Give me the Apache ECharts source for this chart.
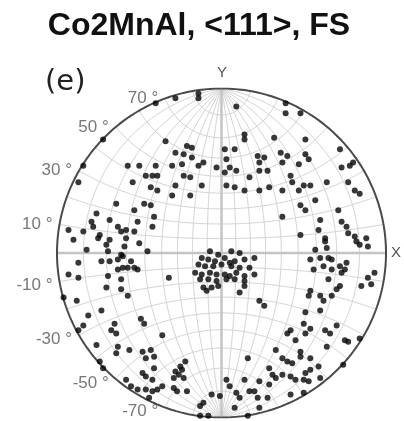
<!DOCTYPE html>
<html><head><meta charset="utf-8">
<script src="https://cdn.jsdelivr.net/npm/echarts@6/dist/echarts.min.js"></script>
<style>html,body{margin:0;padding:0;background:#fff}#c{width:404px;height:421px}</style>
</head><body><div id="c"></div>
<script>
// ---- data (stereographic projection coordinates, unit circle) ----
const chartTitle = "Co2MnAl, <111>, FS";
const panelLabel = "(e)";
const axisNames = ["X", "Y"];
const latTicks = [70, 50, 30, 10, -10, -30, -50, -70];
const latTickLabels = ["70 °", "50 °", "30 °", "10 °", "-10 °", "-30 °", "-50 °", "-70 °"];
const netStepDeg = 10;

const northPoles = [[-0.40,0.91],[-0.72,0.69],[-0.84,0.53],[-0.87,0.43],[-0.34,0.68],[-0.54,0.43],[-0.57,0.53],[-0.50,0.53],[-0.46,0.47],[-0.42,0.47],[-0.39,0.47],[-0.40,0.53],[-0.43,0.40],[-0.39,0.38],[-0.28,0.94],
[-0.14,0.97],[-0.14,0.94],[0.09,0.89],[0.14,0.72],[0.14,0.69],[0.32,0.70],[-0.28,0.61],[-0.21,0.65],[-0.18,0.64],[-0.23,0.60],[-0.18,0.58],[-0.14,0.53],[-0.11,0.55],[-0.30,0.53],[-0.24,0.54],[-0.23,0.47],[-0.28,0.41],[-0.19,0.46],[-0.12,0.41],[-0.30,0.35],[-0.19,0.35],
[0.02,0.63],[0.08,0.63],[0.03,0.57],[0.05,0.52],[0.09,0.50],[-0.03,0.52],[0.02,0.49],[0.03,0.41],[0.14,0.38],[0.08,0.40],[0.22,0.59],[0.26,0.58],[0.23,0.55],[0.23,0.50],[0.28,0.50],[0.23,0.38],[0.29,0.40],[0.17,0.46],
[0.39,0.91],[0.39,0.85],[0.48,0.85],[0.51,0.69],[0.72,0.63],[0.80,0.55],[0.78,0.53],[0.73,0.52],[0.36,0.61],[0.40,0.59],[0.37,0.55],[0.47,0.54],[0.51,0.60],[0.53,0.57],[0.42,0.47],[0.43,0.43],[0.54,0.41],[0.50,0.41],[0.64,0.43],[0.77,0.43],[0.81,0.38],[0.37,0.38],[0.47,0.38],[0.84,0.36]];

const westPoles = [[-0.64,0.30],[-0.53,0.26],[-0.43,0.29],[-0.47,0.30],[-0.76,0.24],[-0.41,0.22],[-0.51,0.19],[-0.68,0.20],[-0.79,0.19],[-0.78,0.16],[-0.63,0.16],[-0.61,0.13],[-0.58,0.14],[-0.93,0.14],[-0.84,0.13],[-0.53,0.13],[-0.42,0.16],[-0.74,0.11],[-0.75,0.09],[-0.90,0.08],[-0.68,0.08],[-0.58,0.09],[-0.50,0.06],[-0.70,0.05],[-0.59,0.04],[-0.82,0.02],[-0.45,0.01],[-0.69,0.01],[-0.61,-0.01],[-0.73,-0.05],[-0.68,-0.05],[-0.63,-0.04],[-0.60,-0.02],[-0.55,-0.05],[-0.87,-0.06],[-0.63,-0.10],[-0.60,-0.09],[-0.57,-0.09],[-0.53,-0.09],[-0.51,-0.10],[-0.93,-0.13],[-0.87,-0.15],[-0.69,-0.14],[-0.61,-0.16],[-0.70,-0.21],[-0.61,-0.22],[-0.57,-0.26],[-0.96,-0.27],[-0.88,-0.29]];

const centerPoles = [[-0.07,0.01],[-0.02,-0.01],[0.06,0.01],[0.11,0.00],[-0.12,-0.03],[-0.08,-0.04],[-0.04,-0.05],[0.02,-0.03],[0.05,-0.06],[0.08,-0.05],[0.14,-0.04],[0.20,-0.03],[-0.14,-0.07],[-0.10,-0.08],[-0.05,-0.08],[0.00,-0.07],[0.06,-0.08],[0.11,-0.09],[0.17,-0.09],[-0.16,-0.12],[-0.12,-0.13],[-0.07,-0.12],[-0.03,-0.13],[0.02,-0.13],[0.05,-0.14],[0.09,-0.12],[0.14,-0.14],[0.20,-0.13],[-0.13,-0.16],[-0.08,-0.16],[-0.03,-0.17],[0.03,-0.16],[0.08,-0.16],[0.14,-0.17],[-0.11,-0.21],[-0.06,-0.21],[-0.02,-0.20],[0.11,-0.24],[0.14,-0.20],[-0.09,-0.23],[0.23,-0.29],[0.26,-0.32],[-0.32,-0.15]];

const eastPoles = [[0.37,0.22],[0.48,0.29],[0.51,0.26],[0.57,0.32],[0.71,0.26],[0.60,0.20],[0.59,0.14],[0.73,0.19],[0.76,0.16],[0.48,0.11],[0.63,0.09],[0.63,0.07],[0.64,0.03],[0.77,0.12],[0.81,0.10],[0.82,0.07],[0.88,0.09],[0.89,0.04],[0.84,0.05],[0.57,0.02],[0.60,-0.03],[0.65,-0.03],[0.67,-0.04],[0.54,-0.04],[0.62,-0.08],[0.56,-0.10],[0.67,-0.10],[0.72,-0.08],[0.76,-0.06],[0.75,-0.10],[0.73,-0.12],[0.93,-0.12],[0.89,-0.15],[0.91,-0.19],[0.85,-0.20],[0.65,-0.16],[0.72,-0.20],[0.70,-0.22],[0.54,-0.23],[0.53,-0.26],[0.60,-0.26],[0.67,-0.26],[0.62,-0.29]];

const southPoles = [[-0.81,-0.38],[-0.73,-0.35],[-0.87,-0.47],[-0.84,-0.44],[-0.65,-0.43],[-0.67,-0.47],[-0.64,-0.49],[-0.49,-0.40],[-0.47,-0.43],[-0.76,-0.56],[-0.63,-0.57],[-0.64,-0.61],[-0.56,-0.59],[-0.48,-0.60],[-0.43,-0.59],[-0.46,-0.64],[-0.41,-0.63],[-0.74,-0.66],[-0.72,-0.70],[-0.58,-0.77],[-0.55,-0.81],[-0.51,-0.83],[-0.48,-0.73],[-0.46,-0.75],[-0.42,-0.77],[-0.41,-0.70],[-0.46,-0.83],[-0.42,-0.84],[-0.39,-0.83],[-0.36,-0.81],[-0.44,-0.88],[-0.36,-0.50],
[-0.28,-0.72],[-0.26,-0.74],[-0.24,-0.71],[-0.29,-0.76],[-0.23,-0.76],[-0.25,-0.69],[-0.22,-0.66],[-0.29,-0.82],[-0.27,-0.84],[-0.21,-0.84],[-0.11,-0.91],[-0.13,-0.93],[-0.13,-0.99],[-0.08,-0.99],[0.03,-0.77],[0.05,-0.81],[-0.01,-0.87],[-0.06,-0.86],[0.16,-0.64],[0.14,-0.77],[0.09,-0.85],[0.11,-0.88],[0.08,-0.94],[0.17,-0.84],[0.20,-0.84],[0.22,-0.88],[0.23,-0.94],[0.16,-0.99],[0.23,-0.78],[0.29,-0.80],[0.28,-0.88],[0.29,-0.70],[0.31,-0.74],[0.33,-0.76],[0.33,-0.59],
[0.51,-0.36],[0.60,-0.35],[0.40,-0.49],[0.42,-0.47],[0.50,-0.43],[0.54,-0.46],[0.63,-0.47],[0.66,-0.49],[0.70,-0.44],[0.75,-0.53],[0.77,-0.54],[0.84,-0.52],[0.45,-0.53],[0.51,-0.49],[0.64,-0.57],[0.37,-0.64],[0.40,-0.66],[0.43,-0.67],[0.48,-0.63],[0.54,-0.64],[0.48,-0.60],[0.54,-0.71],[0.51,-0.73],[0.37,-0.74],[0.42,-0.75],[0.45,-0.77],[0.50,-0.77],[0.53,-0.78],[0.60,-0.76],[0.59,-0.69],[0.42,-0.86],[0.50,-0.85],[0.74,-0.68]];

// ---- Wulff net (stereographic projection of lat/long grid) ----
const D = Math.PI / 180;
function proj(latDeg, lonDeg) {
  const p = latDeg * D, l = lonDeg * D;
  const X = Math.cos(p) * Math.sin(l), Y = Math.sin(p), Z = Math.cos(p) * Math.cos(l);
  return [X / (1 + Z), Y / (1 + Z)];
}
const series = [];
function netLine(pts, color, width, z) {
  series.push({ type: 'line', data: pts, symbol: 'none', silent: true, animation: false, z: z,
    lineStyle: { color: color, width: width } });
}
for (let lon = -90 + netStepDeg; lon < 90; lon += netStepDeg) {
  const pts = [];
  for (let lat = -90; lat <= 90; lat += 1) pts.push(proj(lat, lon));
  if (lon === 0) netLine(pts, '#c4c4c4', 2.5, 2); else netLine(pts, '#d4d4d4', 1, 1);
}
for (let lat = -90 + netStepDeg; lat < 90; lat += netStepDeg) {
  const pts = [];
  for (let lon = -90; lon <= 90; lon += 1) pts.push(proj(lat, lon));
  if (lat === 0) netLine(pts, '#c4c4c4', 2.5, 2); else netLine(pts, '#d4d4d4', 1, 1);
}
// primitive circle
[-90, 90].forEach(lon => {
  const pts = [];
  for (let lat = -90; lat <= 90; lat += 1) pts.push(proj(lat, lon));
  netLine(pts, '#4a4a4a', 2, 3);
});

const allPoles = [].concat(northPoles, westPoles, centerPoles, eastPoles, southPoles);
series.push({ type: 'scatter', data: allPoles, symbol: 'circle', symbolSize: 6, z: 5,
  itemStyle: { color: '#050505' }, silent: true, animation: false });

// latitude labels
series.push({ type: 'scatter', symbolSize: 0, silent: true, animation: false, z: 6,
  data: latTicks.map((lat, i) => ({ value: proj(lat, -90),
    label: { show: true, position: 'left', distance: 7, offset: [0, lat < 0 ? 4 : 0],
      formatter: latTickLabels[i], color: '#555', fontSize: 17, fontFamily: 'Liberation Sans, Arial, sans-serif' } })) });

const chart = echarts.init(document.getElementById('c'), null, { renderer: 'canvas' });
chart.setOption({
  backgroundColor: '#fff',
  animation: false,
  grid: { left: 57, top: 88.5, width: 329, height: 329, containLabel: false },
  xAxis: { type: 'value', min: -1, max: 1, show: false },
  yAxis: { type: 'value', min: -1, max: 1, show: false },
  series: series,
  graphic: [
    { type: 'text', style: { text: chartTitle, x: 199, y: 26, textAlign: 'center', textVerticalAlign: 'middle',
      font: 'bold 32px "Liberation Sans", Arial, sans-serif', fill: '#111' } },
    { type: 'text', style: { text: panelLabel, x: 45, y: 82, textVerticalAlign: 'middle',
      font: '29px "DejaVu Sans", sans-serif', fill: '#222' } },
    { type: 'text', style: { text: axisNames[1], x: 222, y: 73, textAlign: 'center', textVerticalAlign: 'middle',
      font: '15px "Liberation Sans", Arial, sans-serif', fill: '#555' } },
    { type: 'text', style: { text: axisNames[0], x: 396, y: 253, textAlign: 'center', textVerticalAlign: 'middle',
      font: '15px "Liberation Sans", Arial, sans-serif', fill: '#555' } }
  ]
});
</script></body></html>
